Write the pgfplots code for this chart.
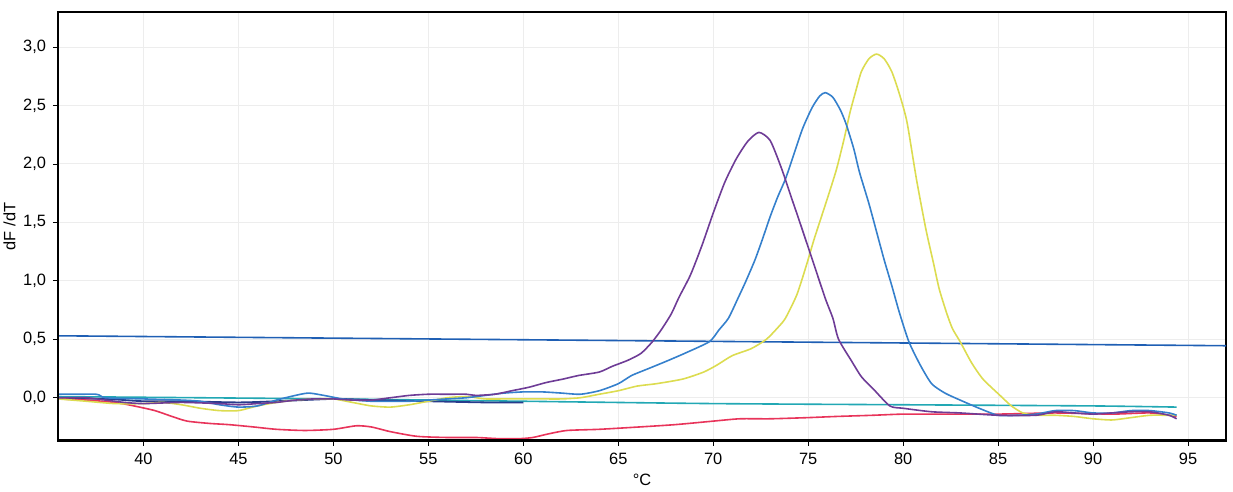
\documentclass[border=0pt]{standalone}
\usepackage{fontspec}
\setmainfont{Liberation Sans}
\usepackage{pgfplots}
\pgfplotsset{compat=1.18}
\definecolor{cpurple}{HTML}{6E3C96}
\definecolor{cblue}{HTML}{3580CC}
\definecolor{cyellow}{HTML}{DCDC50}
\definecolor{cred}{HTML}{E8345A}
\definecolor{cteal}{HTML}{22A8B4}
\definecolor{cnavy}{HTML}{283C8C}
\definecolor{cthr}{HTML}{1F5FB4}
\definecolor{gridgray}{HTML}{EDEDED}
\begin{document}
\begin{tikzpicture}
% fixed page frame round the axis (axis sits with its south west corner at the origin)
\useasboundingbox (-29pt,-25.5pt) rectangle (587.5pt,220.5pt);
\begin{axis}[
  at={(0,0)}, anchor=south west,
  scale only axis, width=584pt, height=214.5pt,
  xmin=35.5, xmax=97, ymin=-0.37, ymax=3.3,
  xtick={40,45,...,95}, ytick={0,0.5,...,3},
  xtick pos=bottom, ytick pos=left,
  tick align=outside, major tick length=2.5pt,
  tick style={black, line width=0.4pt},
  axis line style={black, line width=0.8pt},
  grid=major, grid style={gridgray, line width=0.5pt},
  font=\fontsize{8.2}{10}\selectfont,
  /pgf/number format/assume math mode=true,
  yticklabel style={/pgf/number format/.cd, fixed, fixed zerofill, precision=1, use comma},
  xticklabel style={/pgf/number format/.cd, fixed},
  xlabel={°C}, ylabel={dF /dT},
  xlabel style={at={(axis description cs:0.5,0)}, anchor=north, yshift=-13pt},
  ylabel style={at={(axis description cs:-0.036,0.5)}, anchor=south, inner sep=0pt},
  clip=true,
  every axis plot/.append style={line width=0.8pt, mark=none, smooth, tension=0.4},
]
% threshold line
\addplot[cthr] coordinates {(35.5,0.53) (97,0.445)};
% teal / navy baselines
\addplot[cteal] coordinates {(35.5,0.01) (50,-0.01) (60,-0.03) (70,-0.05) (80,-0.06) (90,-0.07) (94.4,-0.08)};
\addplot[cnavy, line width=0.9pt] coordinates {(35.5,-0.01) (38,-0.01) (40,-0.03) (42,-0.03) (45,-0.04) (47,-0.03) (50,-0.01) (52,-0.02) (55,-0.03) (58,-0.04) (60,-0.04)};
% red
\addplot[cred] coordinates {(35.5,-0.01) (37,-0.02) (38.5,-0.04) (39.5,-0.07) (40.6,-0.11) (41.5,-0.16) (42.3,-0.20) (43.5,-0.22) (44.5,-0.23) (45.8,-0.25) (47,-0.27) (48.5,-0.28) (50,-0.27) (51.2,-0.24) (52,-0.25) (53,-0.29) (54.4,-0.33) (56,-0.34) (57.5,-0.34) (58.7,-0.35) (59.8,-0.35) (60.5,-0.34) (61.3,-0.31) (62.3,-0.28) (64,-0.27) (66.1,-0.25) (68,-0.23) (70,-0.20) (71.4,-0.18) (73,-0.18) (75,-0.17) (76.5,-0.16) (78.4,-0.15) (80,-0.14) (82,-0.14) (85,-0.14) (88,-0.13) (91,-0.14) (93,-0.13) (94.4,-0.16)};
% yellow
\addplot[cyellow] coordinates {(35.5,-0.01) (37,-0.03) (38.5,-0.05) (40,-0.05) (41,-0.04) (42,-0.06) (43,-0.09) (44,-0.11) (45,-0.11) (46,-0.07) (47,-0.04) (48,-0.02) (49,-0.01) (50,-0.01) (51,-0.04) (52,-0.07) (53,-0.08) (54,-0.06) (55,-0.03) (56,0.00) (57,0.01) (58,-0.01) (59,-0.01) (60,-0.01) (61,-0.01) (62,-0.01) (63,0.00) (64,0.03) (65,0.06) (66,0.10) (67,0.12) (68.4,0.16) (69.5,0.22) (70.2,0.28) (71,0.36) (72,0.42) (72.8,0.50) (73.4,0.60) (73.8,0.68) (74.4,0.88) (74.9,1.13) (75.3,1.35) (75.6,1.50) (76.1,1.75) (76.5,1.96) (76.9,2.22) (77.2,2.44) (77.5,2.62) (77.8,2.79) (78.2,2.90) (78.6,2.94) (79.0,2.90) (79.4,2.79) (79.8,2.60) (80.2,2.36) (80.7,1.87) (81.2,1.44) (81.6,1.15) (81.9,0.93) (82.3,0.72) (82.6,0.59) (83.0,0.48) (83.6,0.30) (84.2,0.16) (85.1,0.02) (85.7,-0.07) (86.3,-0.13) (87,-0.15) (88,-0.15) (89,-0.16) (90,-0.18) (91,-0.19) (92,-0.17) (93,-0.15) (94,-0.15) (94.4,-0.15)};
% blue
\addplot[cblue] coordinates {(35.5,0.03) (37.5,0.03) (38,0.00) (40,-0.01) (42,-0.02) (43,-0.03) (44,-0.06) (45,-0.08) (46,-0.07) (47,-0.02) (48,0.02) (48.7,0.04) (49.5,0.02) (50.5,-0.01) (52,-0.03) (54,-0.03) (55,-0.02) (56,-0.01) (57,0.00) (58,0.02) (59,0.04) (60,0.05) (61,0.05) (62,0.04) (63,0.03) (64,0.06) (65,0.12) (65.7,0.19) (66.6,0.25) (67.5,0.31) (68.5,0.38) (69.8,0.48) (70.3,0.58) (70.8,0.68) (71.3,0.85) (71.7,0.99) (72.2,1.18) (72.6,1.36) (73.0,1.55) (73.4,1.72) (73.8,1.87) (74.2,2.06) (74.7,2.30) (75.2,2.48) (75.6,2.58) (75.9,2.61) (76.3,2.57) (76.7,2.46) (77.0,2.34) (77.4,2.13) (77.7,1.93) (78.2,1.66) (78.6,1.42) (79.0,1.18) (79.4,0.96) (79.8,0.73) (80.3,0.48) (80.9,0.28) (81.5,0.12) (82.2,0.04) (83,-0.02) (84,-0.09) (85,-0.15) (86,-0.15) (87,-0.14) (88,-0.11) (89,-0.11) (90,-0.13) (91,-0.13) (92,-0.11) (93,-0.11) (94,-0.13) (94.4,-0.15)};
% purple
\addplot[cpurple] coordinates {(35.5,0.00) (37,0.00) (38,-0.02) (39,-0.04) (40,-0.05) (42,-0.04) (44,-0.05) (45,-0.06) (46,-0.05) (47,-0.04) (48,-0.02) (49,-0.01) (50,-0.01) (51,-0.02) (52,-0.02) (53,0.00) (54,0.02) (55,0.03) (56,0.03) (57,0.03) (57.5,0.02) (58.5,0.03) (59.4,0.06) (60.3,0.09) (61.2,0.13) (62.1,0.16) (62.9,0.19) (64,0.22) (64.7,0.27) (65.5,0.32) (66.2,0.38) (66.8,0.48) (67.3,0.59) (67.8,0.72) (68.2,0.86) (68.8,1.05) (69.4,1.30) (70.0,1.58) (70.6,1.84) (71.2,2.04) (71.8,2.19) (72.4,2.27) (73.0,2.20) (73.6,1.96) (74.1,1.72) (74.5,1.53) (75.2,1.19) (75.9,0.85) (76.3,0.68) (76.6,0.50) (77.3,0.31) (77.8,0.18) (78.4,0.08) (79.3,-0.07) (80,-0.09) (81.5,-0.12) (83,-0.13) (85,-0.15) (87,-0.15) (88,-0.12) (89,-0.13) (90,-0.14) (91,-0.13) (92,-0.12) (93,-0.12) (94,-0.15) (94.4,-0.18)};
% heavier left and bottom frame
\draw[black, line width=1.5pt] (rel axis cs:0,1) -- (rel axis cs:0,0) -- (rel axis cs:1,0);
\end{axis}
\end{tikzpicture}
\end{document}
